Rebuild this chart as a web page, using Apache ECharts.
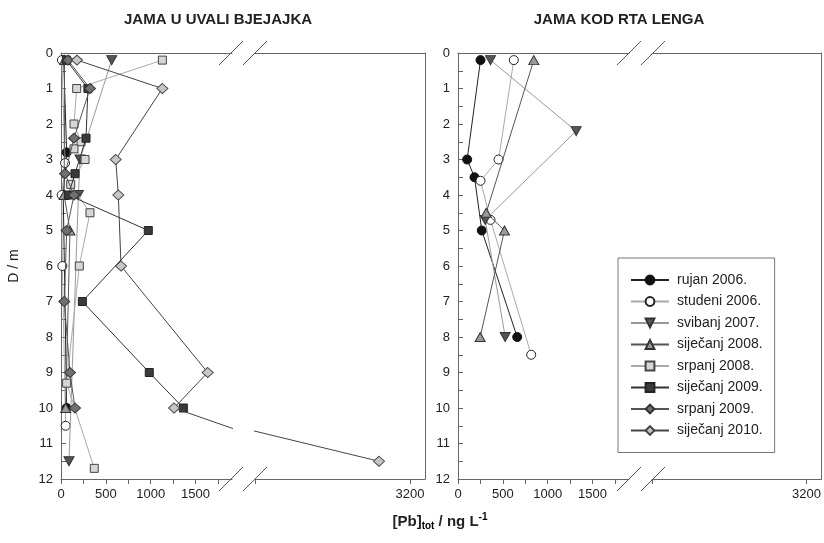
<!DOCTYPE html>
<html>
<head>
<meta charset="utf-8">
<script src="https://cdn.jsdelivr.net/npm/echarts@6.0.0/dist/echarts.min.js"></script>
<style>
html, body { margin:0; padding:0; background:#fff; }
#chart { width:824px; height:543px; }
</style>
</head>
<body>
<div id="chart"></div>
<script>
// legend order
const seriesNames = ['rujan 2006.', 'studeni 2006.', 'svibanj 2007.', 'siječanj 2008.', 'srpanj 2008.', 'siječanj 2009.', 'srpanj 2009.', 'siječanj 2010.'];

// JAMA U UVALI BJEJAJKA  -> [ [Pb]tot ng/L , depth m ]
const bjRujan2006 = [[30, 0.2], [63, 2.8], [25, 4], [63, 10]];
const bjStudeni2006 = [[10, 0.2], [45, 3.1], [8, 4], [15, 6], [52, 10.5]];
const bjSvibanj2007 = [[565, 0.2], [212, 3], [194, 4], [89, 11.5]];
const bjSijecanj2008 = [[40, 0.2], [35, 4], [100, 5], [52, 10]];
const bjSrpanj2008 = [[1130, 0.2], [175, 1], [145, 2], [223, 2.5], [145, 2.7], [268, 3], [108, 3.7], [323, 4.5], [204, 6], [63, 9.3], [371, 11.7]];
const bjSijecanj2009 = [[60, 0.2], [300, 1], [279, 2.4], [156, 3.4], [82, 4], [973, 5], [238, 7], [984, 9], [1364, 10]];
const bjSrpanj2009 = [[78, 0.2], [323, 1], [145, 2.4], [45, 3.4], [145, 4], [63, 5], [37, 7], [100, 9], [156, 10]];
const bjSijecanj2010 = [[178, 0.2], [1130, 1], [610, 3], [639, 4], [669, 6], [1635, 9], [1260, 10], [2960, 11.5]];

// JAMA KOD RTA LENGA
const lgRujan2006 = [[251, 0.2], [102, 3], [184, 3.5], [265, 5], [660, 8]];
const lgStudeni2006 = [[622, 0.2], [452, 3], [251, 3.6], [362, 4.7], [816, 8.5]];
const lgSvibanj2007 = [[362, 0.2], [1317, 2.2], [303, 4.7], [526, 8]];
const lgSijecanj2008 = [[845, 0.2], [314, 4.5], [518, 5], [247, 8]];

const bjData = [bjRujan2006, bjStudeni2006, bjSvibanj2007, bjSijecanj2008, bjSrpanj2008, bjSijecanj2009, bjSrpanj2009, bjSijecanj2010];
const lgData = [lgRujan2006, lgStudeni2006, lgSvibanj2007, lgSijecanj2008, [], [], [], []];

// axis ticks
const depthLabels = [0, 1, 2, 3, 4, 5, 6, 7, 8, 9, 10, 11, 12];
const depthTicks = [0, 0.5, 1, 1.5, 2, 2.5, 3, 3.5, 4, 4.5, 5, 5.5, 6, 6.5, 7, 7.5, 8, 8.5, 9, 9.5, 10, 10.5, 11, 11.5, 12];
const pbLabels = [0, 500, 1000, 1500];
const pbTicks = [0, 250, 500, 750, 1000, 1250, 1500, 1750];
const pbLabelsAfterBreak = [3200];
const pbTicksAfterBreak = [2000, 3200];

// marker looks, same order as seriesNames
const looks = [
    { symbol:'circle', size:9, rotate:0, fill:'#111', border:'#111', line:'#222' },
    { symbol:'circle', size:9, rotate:0, fill:'#fff', border:'#222', line:'#aaa' },
    { symbol:'triangle', size:[10, 9], rotate:180, fill:'#555', border:'#333', line:'#999' },
    { symbol:'triangle', size:[10, 9], rotate:0, fill:'#9a9a9a', border:'#333', line:'#555' },
    { symbol:'rect', size:8, rotate:0, fill:'#d6d6d6', border:'#444', line:'#aaa' },
    { symbol:'rect', size:8, rotate:0, fill:'#3a3a3a', border:'#222', line:'#333' },
    { symbol:'diamond', size:[11, 10], rotate:0, fill:'#707070', border:'#333', line:'#555' },
    { symbol:'diamond', size:[11, 10], rotate:0, fill:'#c6c6c6', border:'#444', line:'#444' }
];

const axisColor = '#666';
const textColor = '#222';

function makeGrid(left, width){
    return { left:left, top:53, width:width, height:426, containLabel:false };
}

function bottomAxis(gridIndex, min, max, labels, ticks){
    return {
        type:'value', gridIndex:gridIndex, position:'bottom', min:min, max:max,
        axisLine:{ show:true, onZero:false, lineStyle:{ color:axisColor, width:1 } },
        axisTick:{ show:true, inside:false, length:5, customValues:ticks, lineStyle:{ color:axisColor } },
        axisLabel:{ show:true, customValues:labels, margin:9, color:textColor, fontSize:13, fontFamily:'Liberation Sans',
            formatter:(value)=>String(value) },
        splitLine:{ show:false }
    };
}

function topAxis(gridIndex, min, max){
    return {
        type:'value', gridIndex:gridIndex, position:'top', min:min, max:max,
        axisLine:{ show:true, onZero:false, lineStyle:{ color:axisColor, width:1 } },
        axisTick:{ show:false }, axisLabel:{ show:false }, splitLine:{ show:false }
    };
}

function depthAxis(gridIndex, showLabels){
    return {
        type:'value', gridIndex:gridIndex, inverse:true, min:0, max:12,
        position: showLabels ? 'left' : 'right',
        axisLine:{ show:true, onZero:false, lineStyle:{ color:axisColor, width:1 } },
        axisTick:{ show:showLabels, inside:true, length:5, customValues:depthTicks, lineStyle:{ color:axisColor } },
        axisLabel:{ show:showLabels, customValues:depthLabels, margin:8, color:textColor, fontSize:13, fontFamily:'Liberation Sans',
            formatter:(value)=>String(value) },
        splitLine:{ show:false }
    };
}

function makeSeries(i, data, axisIndex){
    let look = looks[i];
    return {
        type:'line',
        name:seriesNames[i],
        xAxisIndex:axisIndex,
        yAxisIndex:axisIndex,
        data:data,
        clip:true,
        symbol:look.symbol,
        symbolSize:look.size,
        symbolRotate:look.rotate,
        showAllSymbol:true,
        lineStyle:{ color:look.line, width:1 },
        itemStyle:{ color:look.fill, borderColor:look.border, borderWidth:1 },
        emphasis:{ disabled:true },
        z: 2 + i * 0.1
    };
}

const breakMax = 1906;
const afterMin = 2000;
const afterMax = 3316;

let series = [];
bjData.forEach((d, i)=>{
    series.push(makeSeries(i, d, 0));
    series.push(makeSeries(i, d, 1));
});
lgData.forEach((d, i)=>{
    if ( d.length ){
        series.push(makeSeries(i, d, 2));
        series.push(makeSeries(i, d, 3));
    }
});

function slash(x, y){
    return { type:'line', shape:{ x1:x, y1:y + 12, x2:x + 24, y2:y - 12 }, style:{ stroke:'#555', lineWidth:1 }, z:100 };
}

const option = {
    animation:false,
    backgroundColor:'#fff',
    grid:[ makeGrid(61, 171), makeGrid(255, 170), makeGrid(458, 171), makeGrid(652, 170) ],
    xAxis:[
        bottomAxis(0, 0, breakMax, pbLabels, pbTicks),
        bottomAxis(1, afterMin, afterMax, pbLabelsAfterBreak, pbTicksAfterBreak),
        bottomAxis(2, 0, breakMax, pbLabels, pbTicks),
        bottomAxis(3, afterMin, afterMax, pbLabelsAfterBreak, pbTicksAfterBreak),
        topAxis(0, 0, breakMax), topAxis(1, afterMin, afterMax),
        topAxis(2, 0, breakMax), topAxis(3, afterMin, afterMax)
    ],
    yAxis:[ depthAxis(0, true), depthAxis(1, false), depthAxis(2, true), depthAxis(3, false) ],
    legend:{
        data:seriesNames,
        orient:'vertical',
        left:618, top:258,
        padding:[14, 12, 14, 12],
        itemWidth:38, itemHeight:11, itemGap:5.5,
        borderColor:'#777', borderWidth:1,
        textStyle:{ color:textColor, fontSize:14, fontFamily:'Liberation Sans', lineHeight:16, padding:[0, 0, 0, 3] },
        selectedMode:false
    },
    graphic:[
        { type:'text', x:218, y:20, style:{ text:'JAMA U UVALI BJEJAJKA', font:'bold 15px "Liberation Sans"', fill:textColor, textAlign:'center', textVerticalAlign:'middle' } },
        { type:'text', x:619, y:20, style:{ text:'JAMA KOD RTA LENGA', font:'bold 15px "Liberation Sans"', fill:textColor, textAlign:'center', textVerticalAlign:'middle' } },
        { type:'text', x:14, y:266, rotation:Math.PI / 2, style:{ text:'D / m', font:'14px "Liberation Sans"', fill:textColor, textAlign:'center', textVerticalAlign:'middle' } },
        { type:'text', x:440, y:522, style:{
            text:'{b|[Pb]}{s|tot}{b| / ng L}{p|-1}',
            textAlign:'center', textVerticalAlign:'middle',
            rich:{
                b:{ fontSize:15, fontWeight:'bold', fontFamily:'Liberation Sans', fill:textColor, color:textColor },
                s:{ fontSize:10, fontWeight:'bold', fontFamily:'Liberation Sans', color:textColor, padding:[9, 0, 0, 0] },
                p:{ fontSize:10, fontWeight:'bold', fontFamily:'Liberation Sans', color:textColor, padding:[0, 0, 9, 0] }
            }
        } },
        slash(219, 53), slash(243, 53), slash(219, 479), slash(243, 479),
        slash(617, 53), slash(641, 53), slash(617, 479), slash(641, 479)
    ],
    series:series
};

const myChart = echarts.init(document.getElementById('chart'), null, { renderer:'canvas' });
myChart.setOption(option);
</script>
</body>
</html>
